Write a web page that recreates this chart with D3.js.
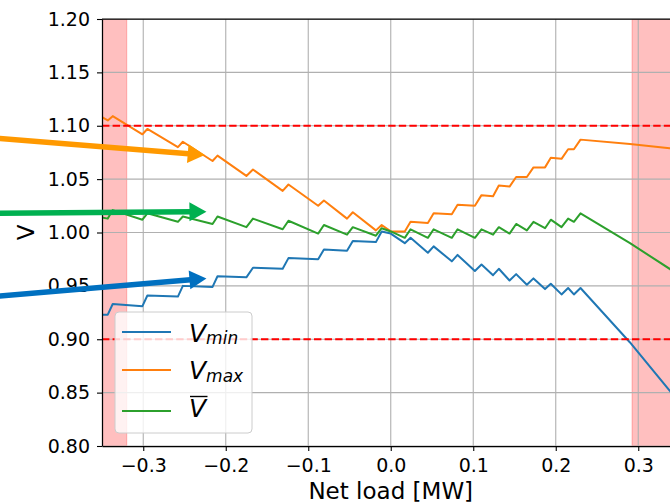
<!DOCTYPE html>
<html>
<head>
<meta charset="utf-8">
<script src="https://d3js.org/d3.v7.min.js"></script>
<style>
body { margin: 0; background: #fff; }
text { font-family: "DejaVu Sans", sans-serif; fill: #000; }
</style>
</head>
<body>
<svg id="chart" width="670" height="503"></svg>
<script>
// net load [MW] at the breakpoints of the three voltage curves
var netLoad = [-0.350,-0.343,-0.337,-0.301,-0.295,-0.258,-0.252,-0.216,-0.210,-0.175,-0.167,-0.131,-0.124,-0.088,-0.081,-0.053,-0.046,-0.018,-0.011,0.000,
  0.017,0.024,0.045,0.052,0.074,0.081,0.102,0.110,0.124,0.131,0.144,0.152,0.165,0.173,0.187,0.194,0.207,0.215,0.222,0.230,0.290,0.338,0.350];
var vMin = [0.923,0.923,0.933,0.931,0.941,0.940,0.950,0.949,0.959,0.958,0.967,0.966,0.976,0.975,0.984,0.983,0.992,0.991,1.001,0.999,
  0.990,0.995,0.981,0.987,0.973,0.979,0.964,0.970,0.960,0.966,0.955,0.961,0.951,0.957,0.947,0.952,0.942,0.948,0.942,0.948,0.897,0.852,0.840];
var vMax = [1.108,1.105,1.109,1.092,1.097,1.080,1.085,1.067,1.072,1.053,1.059,1.039,1.045,1.025,1.030,1.013,1.019,1.002,1.007,1.001,
  1.001,1.010,1.009,1.018,1.017,1.026,1.025,1.035,1.034,1.044,1.043,1.052,1.052,1.061,1.061,1.070,1.069,1.078,1.078,1.087,1.083,1.079,1.078];
var vMean = [1.014,1.013,1.021,1.012,1.018,1.010,1.015,1.008,1.015,1.005,1.013,1.003,1.011,0.999,1.007,0.998,1.005,0.997,1.004,1.001,
  0.995,1.003,0.995,1.003,0.995,1.003,0.995,1.003,0.998,1.005,0.999,1.008,1.002,1.010,1.004,1.012,1.005,1.013,1.010,1.018,0.990,0.966,0.958];

var xTicks = [-0.3,-0.2,-0.1,0.0,0.1,0.2,0.3];
var yTicks = [0.80,0.85,0.90,0.95,1.00,1.05,1.10,1.15,1.20];
var voltageLimits = [0.90, 1.10];
var overloadZones = [[-0.35,-0.320],[0.2925,0.35]];

// annotation arrows: [tailX, tailY, tipX, tipY] in data units
var arrowMax  = [-0.474, 1.088, -0.2255, 1.0726];
var arrowMean = [-0.474, 1.018, -0.2234, 1.0195];
var arrowMin  = [-0.474, 0.9405, -0.2234, 0.957];

var margin = {top: 19, left: 102};
var width = 577.5, height = 427;

var svg = d3.select("#chart");
var g = svg.append("g").attr("transform","translate("+margin.left+","+margin.top+")");

var x = d3.scaleLinear().domain([-0.35,0.35]).range([0,width]);
var y = d3.scaleLinear().domain([0.80,1.20]).range([height,0]);

svg.append("defs").append("clipPath").attr("id","plotclip")
  .append("rect").attr("width",width).attr("height",height);

var plot = g.append("g").attr("clip-path","url(#plotclip)");

// shaded zones
plot.selectAll("rect.zone").data(overloadZones).enter().append("rect")
  .attr("class","zone")
  .attr("x", d => x(d[0])).attr("width", d => x(d[1]) - x(d[0]))
  .attr("y", 0).attr("height", height)
  .attr("fill","red").attr("fill-opacity",0.25)
  .attr("stroke","red").attr("stroke-opacity",0.25).attr("stroke-width",1);

// grid
plot.selectAll("line.gx").data(xTicks).enter().append("line")
  .attr("x1", d => x(d)).attr("x2", d => x(d)).attr("y1",0).attr("y2",height)
  .attr("stroke","#b0b0b0").attr("stroke-width",1.1);
plot.selectAll("line.gy").data(yTicks).enter().append("line")
  .attr("y1", d => y(d)).attr("y2", d => y(d)).attr("x1",0).attr("x2",width)
  .attr("stroke","#b0b0b0").attr("stroke-width",1.1);

// curves
var series = [
  {name:"min", values:vMin, color:"#1f77b4"},
  {name:"max", values:vMax, color:"#ff7f0e"},
  {name:"mean", values:vMean, color:"#2ca02c"}
];
var line = d3.line().x((d,i) => x(netLoad[i])).y(d => y(d));
series.forEach(function(s){
  plot.append("path").attr("d", line(s.values))
    .attr("fill","none").attr("stroke", s.color).attr("stroke-width",2)
    .attr("stroke-linejoin","round");
});

// voltage limits
plot.selectAll("line.lim").data(voltageLimits).enter().append("line")
  .attr("x1",0).attr("x2",width).attr("y1", d => y(d)).attr("y2", d => y(d))
  .attr("stroke","red").attr("stroke-width",2).attr("stroke-dasharray","7.4,3.2");

// axes
var xAxis = g.append("g").attr("transform","translate(0,"+height+")")
  .call(d3.axisBottom(x).tickValues(xTicks).tickFormat(d3.format(".1f")).tickSize(5).tickSizeOuter(0).tickPadding(8));
var yAxis = g.append("g")
  .call(d3.axisLeft(y).tickValues(yTicks).tickFormat(d3.format(".2f")).tickSize(5).tickSizeOuter(0).tickPadding(7));
[xAxis, yAxis].forEach(function(a){
  a.selectAll("text").style("font-family","DejaVu Sans").style("font-size","19px").attr("fill","#000");
  a.select(".domain").attr("stroke","#000").attr("stroke-width",1.25);
  a.selectAll(".tick line").attr("stroke","#000").attr("stroke-width",1.1);
});
g.append("line").attr("x1",0).attr("x2",width).attr("y1",0).attr("y2",0)
  .attr("stroke","#000").attr("stroke-width",1.25);
g.append("line").attr("x1",width).attr("x2",width).attr("y1",0).attr("y2",height)
  .attr("stroke","#000").attr("stroke-width",1.25);

// axis labels
svg.append("text").attr("x", margin.left + width/2).attr("y", 499)
  .attr("text-anchor","middle").style("font-size","23px").text("Net load [MW]");
svg.append("text").attr("transform","translate(34,"+(margin.top+height/2)+") rotate(-90)")
  .attr("text-anchor","middle").style("font-size","23px").text("V");

// legend
var lg = g.append("g").attr("transform","translate(13,293)");
lg.append("rect").attr("width",137).attr("height",121).attr("rx",4)
  .attr("fill","#fff").attr("fill-opacity",0.8).attr("stroke","#cccccc").attr("stroke-width",1);
var legendRows = [20, 58, 99];
series.forEach(function(s,i){
  lg.append("line").attr("x1",7).attr("x2",56).attr("y1",legendRows[i]).attr("y2",legendRows[i])
    .attr("stroke", s.color).attr("stroke-width",2);
});
var t1 = lg.append("text").attr("x",74).attr("y",legendRows[0]+9.5).style("font-size","25px").style("font-style","italic");
t1.append("tspan").text("V");
t1.append("tspan").attr("dy",2.5).style("font-size","17px").text("min");
var t2 = lg.append("text").attr("x",74).attr("y",legendRows[1]+8.5).style("font-size","25px").style("font-style","italic");
t2.append("tspan").text("V");
t2.append("tspan").attr("dy",3.4).style("font-size","17px").text("max");
lg.append("text").attr("x",74).attr("y",legendRows[2]+6).style("font-size","25px").style("font-style","italic").text("V");
lg.append("line").attr("x1",75).attr("x2",92.5).attr("y1",legendRows[2]-14.5).attr("y2",legendRows[2]-14.5)
  .attr("stroke","#000").attr("stroke-width",1.4);

// annotation arrows
function drawArrow(a, color) {
  var x0 = margin.left + x(a[0]), y0 = margin.top + y(a[1]);
  var x1 = margin.left + x(a[2]), y1 = margin.top + y(a[3]);
  var dx = x1 - x0, dy = y1 - y0, len = Math.sqrt(dx*dx + dy*dy);
  var ux = dx/len, uy = dy/len, px = -uy, py = ux;
  var headLen = 17, headW = 9.5;
  var bx = x1 - ux*headLen, by = y1 - uy*headLen;
  svg.append("line").attr("x1",x0).attr("y1",y0).attr("x2",bx+ux).attr("y2",by+uy)
    .attr("stroke",color).attr("stroke-width",5.5);
  svg.append("polygon")
    .attr("points",[[x1,y1],[bx+px*headW,by+py*headW],[bx-px*headW,by-py*headW]].map(p => p.join(",")).join(" "))
    .attr("fill",color);
}
drawArrow(arrowMax, "#ff9900");
drawArrow(arrowMean, "#00b050");
drawArrow(arrowMin, "#0070c0");
</script>
</body>
</html>
